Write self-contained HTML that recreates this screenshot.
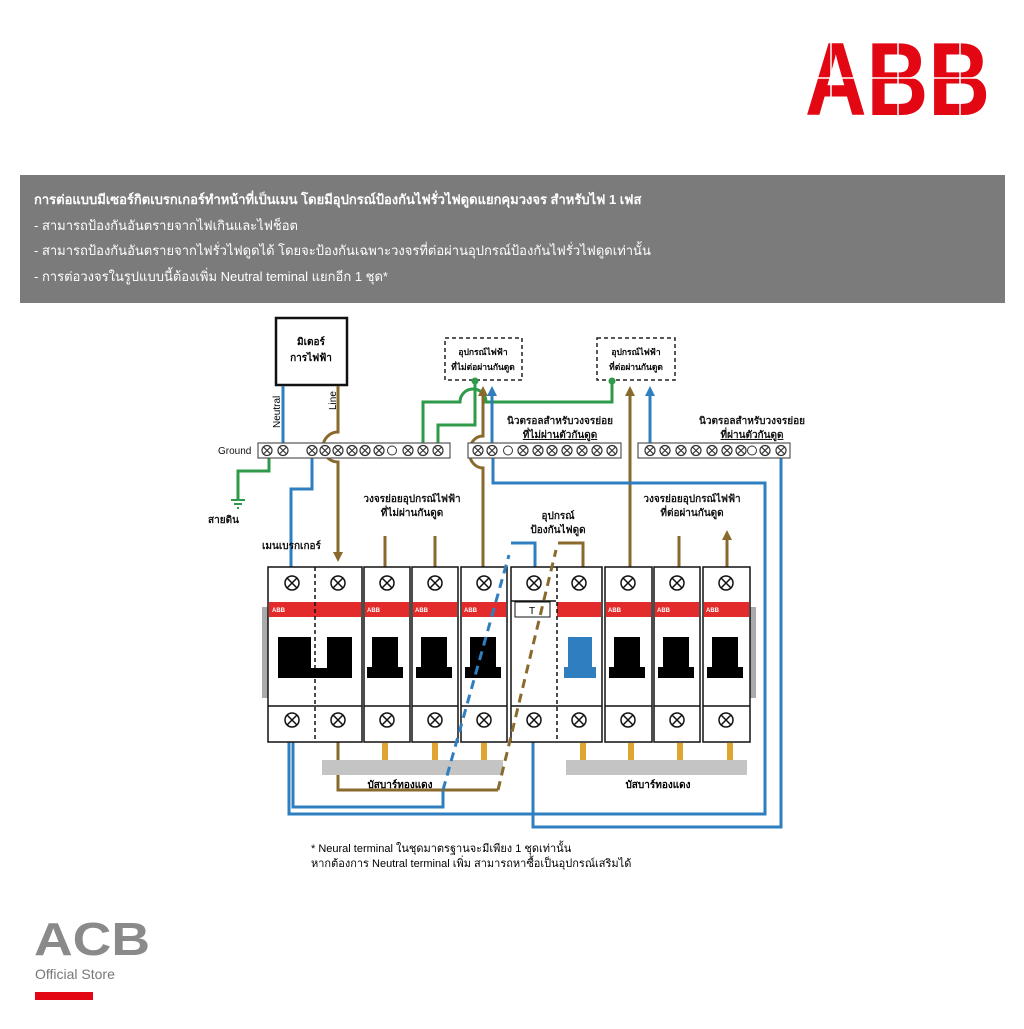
<!DOCTYPE html>
<html><head><meta charset="utf-8"><style>
html,body{margin:0;padding:0;background:#fff;}
body{width:1024px;height:1024px;overflow:hidden;position:relative;font-family:"Liberation Sans","DejaVu Sans",sans-serif;}
</style></head><body>
<svg width="1024" height="1024" viewBox="0 0 1024 1024" xmlns="http://www.w3.org/2000/svg" font-family="Liberation Sans, DejaVu Sans, sans-serif">
<defs>
<symbol id="t" viewBox="-6 -6 12 12" overflow="visible"><circle r="5" fill="#fff" stroke="#333" stroke-width="1.2"/><path d="M-3.5 -3.5L3.5 3.5M3.5 -3.5L-3.5 3.5" stroke="#333" stroke-width="1.2"/></symbol>
<symbol id="T" viewBox="-8 -8 16 16" overflow="visible"><circle r="7" fill="#fff" stroke="#111" stroke-width="1.5"/><path d="M-5 -5L5 5M5 -5L-5 5" stroke="#111" stroke-width="1.5"/></symbol>
<marker id="ab" markerWidth="10" markerHeight="10" refX="4" refY="5" orient="auto" markerUnits="userSpaceOnUse"><path d="M0 0L10 5L0 10Z" fill="#8a6a2c"/></marker>
<marker id="ablue" markerWidth="10" markerHeight="10" refX="4" refY="5" orient="auto" markerUnits="userSpaceOnUse"><path d="M0 0L10 5L0 10Z" fill="#2f7fc0"/></marker>
</defs>

<!-- ABB logo -->
<text x="805" y="115" font-size="104" font-weight="bold" fill="#e30613" textLength="185" lengthAdjust="spacingAndGlyphs">ABB</text>
<path d="M790 78H1000M831 38V118M898 38V118M960 38V118" stroke="#fff" stroke-width="1.5"/>

<!-- header -->
<rect x="20" y="175" width="985" height="128" fill="#7b7b7b"/>
<g fill="#fff" font-size="13">
<text x="34" y="204" font-weight="bold">การต่อแบบมีเซอร์กิตเบรกเกอร์ทำหน้าที่เป็นเมน โดยมีอุปกรณ์ป้องกันไฟรั่วไฟดูดแยกคุมวงจร สำหรับไฟ 1 เฟส</text>
<text x="34" y="230">- สามารถป้องกันอันตรายจากไฟเกินและไฟช็อต</text>
<text x="34" y="255">- สามารถป้องกันอันตรายจากไฟรั่วไฟดูดได้ โดยจะป้องกันเฉพาะวงจรที่ต่อผ่านอุปกรณ์ป้องกันไฟรั่วไฟดูดเท่านั้น</text>
<text x="34" y="281">- การต่อวงจรในรูปแบบนี้ต้องเพิ่ม Neutral teminal แยกอีก 1 ชุด*</text>
</g>

<!-- meter -->
<rect x="276" y="318" width="71" height="67" fill="#fff" stroke="#111" stroke-width="2.5"/>
<text x="311" y="345" font-size="10" font-weight="bold" text-anchor="middle">มิเตอร์</text>
<text x="311" y="361" font-size="10" font-weight="bold" text-anchor="middle">การไฟฟ้า</text>
<text transform="translate(280,428) rotate(-90)" font-size="10">Neutral</text>
<text transform="translate(336,410) rotate(-90)" font-size="10">Line</text>

<!-- device boxes -->
<rect x="445" y="338" width="77" height="42" fill="none" stroke="#222" stroke-width="1.5" stroke-dasharray="4,3"/>
<text x="483" y="355" font-size="8.5" font-weight="bold" text-anchor="middle">อุปกรณ์ไฟฟ้า</text>
<text x="483" y="370" font-size="8.5" font-weight="bold" text-anchor="middle">ที่ไม่ต่อผ่านกันดูด</text>
<rect x="597" y="338" width="78" height="42" fill="none" stroke="#222" stroke-width="1.5" stroke-dasharray="4,3"/>
<text x="636" y="355" font-size="8.5" font-weight="bold" text-anchor="middle">อุปกรณ์ไฟฟ้า</text>
<text x="636" y="370" font-size="8.5" font-weight="bold" text-anchor="middle">ที่ต่อผ่านกันดูด</text>

<g fill="none" stroke-width="3">
<path d="M283 386V443" stroke="#2f7fc0"/>
<path d="M338 386V432A13 13 0 0 0 338 462V556" stroke="#8a6a2c" marker-end="url(#ab)"/>
<path d="M423 443V402H460A13 13 0 0 1 486 402H612V382" stroke="#2e9a4a"/>
<path d="M438 443V425H475V382" stroke="#2e9a4a"/>
<path d="M483 568V468A13 15 0 0 1 483 436V392" stroke="#8a6a2c" marker-end="url(#ab)"/>
<path d="M492 443V392" stroke="#2f7fc0" marker-end="url(#ablue)"/>
<path d="M630 568V392" stroke="#8a6a2c" marker-end="url(#ab)"/>
<path d="M650 443V392" stroke="#2f7fc0" marker-end="url(#ablue)"/>
<path d="M312 457V489H291V568" stroke="#2f7fc0"/>
<path d="M269 457V471H238V500" stroke="#2e9a4a"/>
<path d="M493 457V483H765V814H289V742" stroke="#2f7fc0"/>
<path d="M781 457V827H533V742" stroke="#2f7fc0"/>
<path d="M293 742V807H443V790" stroke="#2f7fc0"/>
<path d="M338 742V790H498" stroke="#8a6a2c"/>
<path d="M511 543H535V568" stroke="#2f7fc0"/>
<path d="M558 543H583V568" stroke="#8a6a2c"/>
<path d="M385 568V536M435 568V536M679 568V536M727 568V536" stroke="#8a6a2c" marker-end="url(#ab)"/>
</g>
<circle cx="475" cy="381" r="3.5" fill="#2e9a4a"/>
<circle cx="612" cy="381" r="3.5" fill="#2e9a4a"/>
<path d="M231 500H245M234 504H242M237 508H239" stroke="#2e9a4a" stroke-width="2"/>

<!-- terminal strips -->
<rect x="258" y="443" width="192" height="15" fill="#fff" stroke="#555" stroke-width="1.2"/>
<rect x="468" y="443" width="153" height="15" fill="#fff" stroke="#555" stroke-width="1.2"/>
<rect x="638" y="443" width="152" height="15" fill="#fff" stroke="#555" stroke-width="1.2"/>
<g>
<use href="#t" x="261" y="444.5" width="12" height="12"/><use href="#t" x="277" y="444.5" width="12" height="12"/>
<use href="#t" x="306" y="444.5" width="12" height="12"/><use href="#t" x="319" y="444.5" width="12" height="12"/><use href="#t" x="332" y="444.5" width="12" height="12"/><use href="#t" x="346" y="444.5" width="12" height="12"/><use href="#t" x="359" y="444.5" width="12" height="12"/><use href="#t" x="373" y="444.5" width="12" height="12"/>
<use href="#t" x="402" y="444.5" width="12" height="12"/><use href="#t" x="417" y="444.5" width="12" height="12"/><use href="#t" x="432" y="444.5" width="12" height="12"/>
<circle cx="392" cy="450.5" r="4.5" fill="#fff" stroke="#333"/>
<use href="#t" x="472" y="444.5" width="12" height="12"/><use href="#t" x="486" y="444.5" width="12" height="12"/>
<circle cx="508" cy="450.5" r="4.5" fill="#fff" stroke="#333"/>
<use href="#t" x="517" y="444.5" width="12" height="12"/><use href="#t" x="532" y="444.5" width="12" height="12"/><use href="#t" x="546" y="444.5" width="12" height="12"/><use href="#t" x="561" y="444.5" width="12" height="12"/><use href="#t" x="576" y="444.5" width="12" height="12"/><use href="#t" x="591" y="444.5" width="12" height="12"/><use href="#t" x="606" y="444.5" width="12" height="12"/>
<use href="#t" x="644" y="444.5" width="12" height="12"/><use href="#t" x="659" y="444.5" width="12" height="12"/><use href="#t" x="675" y="444.5" width="12" height="12"/><use href="#t" x="690" y="444.5" width="12" height="12"/><use href="#t" x="706" y="444.5" width="12" height="12"/><use href="#t" x="721" y="444.5" width="12" height="12"/><use href="#t" x="735" y="444.5" width="12" height="12"/>
<circle cx="752" cy="450.5" r="4.5" fill="#fff" stroke="#333"/>
<use href="#t" x="759" y="444.5" width="12" height="12"/><use href="#t" x="775" y="444.5" width="12" height="12"/>
</g>

<g font-size="10" fill="#111">
<text x="218" y="454">Ground</text>
<text x="208" y="523" font-weight="bold">สายดิน</text>
<text x="262" y="549" font-weight="bold">เมนเบรกเกอร์</text>
<text x="412" y="502" font-weight="bold" text-anchor="middle">วงจรย่อยอุปกรณ์ไฟฟ้า</text>
<text x="412" y="516" font-weight="bold" text-anchor="middle">ที่ไม่ผ่านกันดูด</text>
<text x="558" y="519" font-weight="bold" text-anchor="middle">อุปกรณ์</text>
<text x="558" y="533" font-weight="bold" text-anchor="middle">ป้องกันไฟดูด</text>
<text x="692" y="502" font-weight="bold" text-anchor="middle">วงจรย่อยอุปกรณ์ไฟฟ้า</text>
<text x="692" y="516" font-weight="bold" text-anchor="middle">ที่ต่อผ่านกันดูด</text>
<text x="560" y="424" font-weight="bold" text-anchor="middle">นิวตรอลสำหรับวงจรย่อย</text>
<text x="560" y="438" font-weight="bold" text-anchor="middle" text-decoration="underline">ที่ไม่ผ่านตัวกันดูด</text>
<text x="752" y="424" font-weight="bold" text-anchor="middle">นิวตรอลสำหรับวงจรย่อย</text>
<text x="752" y="438" font-weight="bold" text-anchor="middle" text-decoration="underline">ที่ผ่านตัวกันดูด</text>
</g>

<rect x="262" y="607" width="7" height="91" fill="#aaa"/>
<rect x="749" y="607" width="7" height="91" fill="#aaa"/>

<g stroke="#111" stroke-width="1.5">
<rect x="268" y="567" width="94" height="175" fill="#fff"/>
<rect x="364" y="567" width="46" height="175" fill="#fff"/>
<rect x="412" y="567" width="46" height="175" fill="#fff"/>
<rect x="461" y="567" width="46" height="175" fill="#fff"/>
<rect x="511" y="567" width="91" height="175" fill="#fff"/>
<rect x="605" y="567" width="47" height="175" fill="#fff"/>
<rect x="654" y="567" width="46" height="175" fill="#fff"/>
<rect x="703" y="567" width="47" height="175" fill="#fff"/>
</g>
<g fill="#e32b2b">
<rect x="269" y="602" width="92" height="15"/>
<rect x="365" y="602" width="44" height="15"/>
<rect x="413" y="602" width="44" height="15"/>
<rect x="462" y="602" width="44" height="15"/>
<rect x="557" y="602" width="44" height="15"/>
<rect x="606" y="602" width="45" height="15"/>
<rect x="655" y="602" width="44" height="15"/>
<rect x="704" y="602" width="45" height="15"/>
</g>
<g fill="#fff" font-size="6" font-weight="bold">
<text x="272" y="612">ABB</text><text x="367" y="612">ABB</text><text x="415" y="612">ABB</text><text x="464" y="612">ABB</text><text x="608" y="612">ABB</text><text x="657" y="612">ABB</text><text x="706" y="612">ABB</text>
</g>
<rect x="515" y="602" width="35" height="15" fill="#fff" stroke="#111" stroke-width="1"/>
<text x="532" y="614" font-size="10" text-anchor="middle">T</text>
<g stroke="#111" stroke-width="1.5">
<path d="M268 706H362M364 706H410M412 706H458M461 706H507M511 706H602M605 706H652M654 706H700M703 706H750"/>
<path d="M511 601H556"/>
</g>
<path d="M315 567V742M557 567V742" stroke="#111" stroke-width="1.5" stroke-dasharray="4,3"/>
<g fill="#000">
<path d="M278 637H311V668H327V637H352V678H278Z"/>
<path d="M372 637H398V667H403V678H367V667H372Z"/>
<path d="M421 637H447V667H452V678H416V667H421Z"/>
<path d="M470 637H496V667H501V678H465V667H470Z"/>
<path d="M614 637H640V667H645V678H609V667H614Z"/>
<path d="M663 637H689V667H694V678H658V667H663Z"/>
<path d="M712 637H738V667H743V678H707V667H712Z"/>
</g>
<path d="M568 637H592V667H596V678H564V667H568Z" fill="#2f7fc0"/>
<g>
<use href="#T" x="284" y="575" width="16" height="16"/><use href="#T" x="330" y="575" width="16" height="16"/><use href="#T" x="379" y="575" width="16" height="16"/><use href="#T" x="427" y="575" width="16" height="16"/><use href="#T" x="476" y="575" width="16" height="16"/><use href="#T" x="526" y="575" width="16" height="16"/><use href="#T" x="571" y="575" width="16" height="16"/><use href="#T" x="620" y="575" width="16" height="16"/><use href="#T" x="669" y="575" width="16" height="16"/><use href="#T" x="718" y="575" width="16" height="16"/>
<use href="#T" x="284" y="712" width="16" height="16"/><use href="#T" x="330" y="712" width="16" height="16"/><use href="#T" x="379" y="712" width="16" height="16"/><use href="#T" x="427" y="712" width="16" height="16"/><use href="#T" x="476" y="712" width="16" height="16"/><use href="#T" x="526" y="712" width="16" height="16"/><use href="#T" x="571" y="712" width="16" height="16"/><use href="#T" x="620" y="712" width="16" height="16"/><use href="#T" x="669" y="712" width="16" height="16"/><use href="#T" x="718" y="712" width="16" height="16"/>
</g>
<rect x="322" y="760" width="181" height="15" fill="#c4c4c4"/>
<rect x="566" y="760" width="181" height="15" fill="#c4c4c4"/>
<g fill="#e0a530">
<rect x="382" y="743" width="6" height="17"/><rect x="432" y="743" width="6" height="17"/><rect x="481" y="743" width="6" height="17"/>
<rect x="580" y="743" width="6" height="17"/><rect x="628" y="743" width="6" height="17"/><rect x="677" y="743" width="6" height="17"/><rect x="727" y="743" width="6" height="17"/>
</g>
<text x="400" y="788" font-size="10" font-weight="bold" text-anchor="middle">บัสบาร์ทองแดง</text>
<text x="658" y="788" font-size="10" font-weight="bold" text-anchor="middle">บัสบาร์ทองแดง</text>

<!-- dashed links drawn over modules -->
<g fill="none" stroke-width="3">
<path d="M443 790L509 555" stroke="#2f7fc0" stroke-dasharray="9,6"/>
<path d="M498 790L556 550" stroke="#8a6a2c" stroke-dasharray="9,6"/>
</g>

<text x="311" y="852" font-size="11">* Neural terminal ในชุดมาตรฐานจะมีเพียง 1 ชุดเท่านั้น</text>
<text x="311" y="867" font-size="11">หากต้องการ Neutral terminal เพิ่ม  สามารถหาซื้อเป็นอุปกรณ์เสริมได้</text>

<text x="34" y="955" font-size="46" font-weight="bold" fill="#8a8a8a" textLength="116" lengthAdjust="spacingAndGlyphs">ACB</text>
<text x="35" y="979" font-size="14" fill="#777">Official Store</text>
<rect x="35" y="992" width="58" height="8" fill="#e30613"/>
</svg>
</body></html>
